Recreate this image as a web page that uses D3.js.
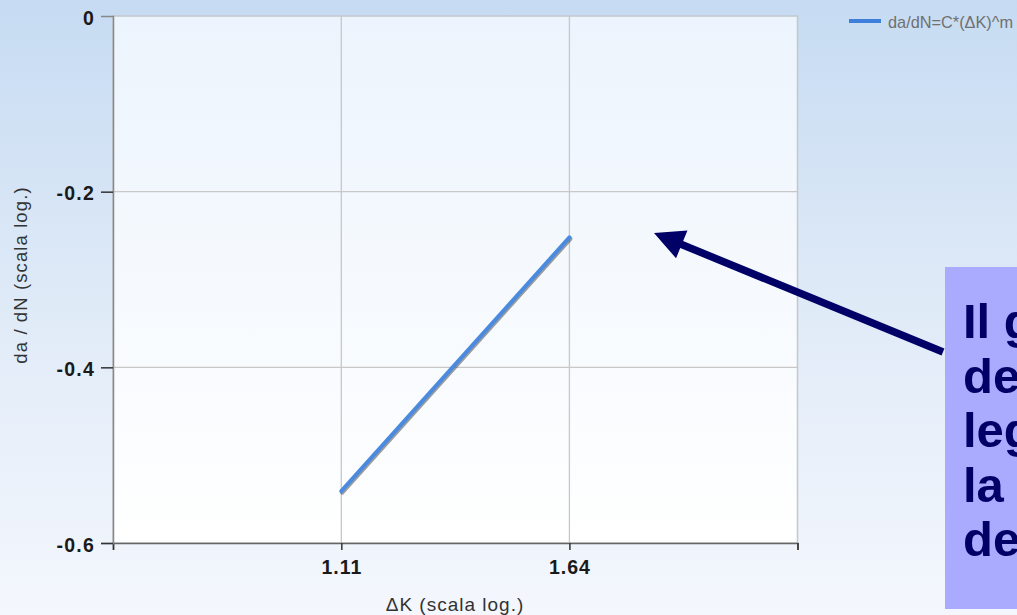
<!DOCTYPE html>
<html><head><meta charset="utf-8">
<script src="https://cdn.jsdelivr.net/npm/d3@7"></script>
<style>
html,body{margin:0;padding:0;overflow:hidden;background:#fff}
svg{display:block}
</style></head>
<body>
<script>
// ---- data ----
const xValues = [1.11, 1.64];               // ΔK
const yValues = [-0.541, -0.252];           // da/dN (log)
const seriesName = "da/dN=C*(ΔK)^m";
const xTickValues = [0.751, 1.11, 1.64, 2.423];
const xTickLabels = ["", "1.11", "1.64", ""];
const yTickValues = [0, -0.2, -0.4, -0.6];
const yTickLabels = ["0", "-0.2", "-0.4", "-0.6"];
const xTitle = "ΔK (scala log.)";
const yTitle = "da / dN (scala log.)";
const noteLines = ["Il g", "de", "leg", "la", "de"];

(function(){
const W = 1017, H = 615;
const svg = d3.select("body").append("svg").attr("width", W).attr("height", H);
const defs = svg.append("defs");
const bg = defs.append("linearGradient").attr("id","bg").attr("x1",0).attr("y1",0).attr("x2",0).attr("y2",1);
bg.append("stop").attr("offset","0%").attr("stop-color","#c6dbf2");
bg.append("stop").attr("offset","55%").attr("stop-color","#e2ecf8");
bg.append("stop").attr("offset","100%").attr("stop-color","#f4f7fd");
const pg = defs.append("linearGradient").attr("id","pg").attr("x1",0).attr("y1",0).attr("x2",0).attr("y2",1);
pg.append("stop").attr("offset","0%").attr("stop-color","#ecf4fd");
pg.append("stop").attr("offset","100%").attr("stop-color","#ffffff");

svg.append("rect").attr("width",W).attr("height",H).attr("fill","url(#bg)");

const pL = 113, pR = 797.5, pT = 16, pB = 543;
const x = d3.scaleLog().domain([xTickValues[0], xTickValues[3]]).range([pL, pR]);
const y = d3.scaleLinear().domain([-0.6, 0]).range([pB, pT]);

// plot area
svg.append("rect").attr("x",pL).attr("y",pT).attr("width",pR-pL).attr("height",pB-pT)
  .attr("fill","url(#pg)").attr("stroke","#c4c7cc").attr("stroke-width",1.5);

// grid
const g = svg.append("g");
g.selectAll(".vg").data(xTickValues.slice(1,3)).join("line")
  .attr("x1",d=>x(d)).attr("x2",d=>x(d)).attr("y1",pT).attr("y2",pB)
  .attr("stroke","#c8c8c8").attr("stroke-width",1.3);
g.selectAll(".hg").data(yTickValues.slice(1,3)).join("line")
  .attr("x1",pL).attr("x2",pR).attr("y1",d=>y(d)).attr("y2",d=>y(d))
  .attr("stroke","#c8c8c8").attr("stroke-width",1.3);

// axes
const xAxis = d3.axisBottom(x).tickValues(xTickValues).tickSize(7).tickPadding(10)
  .tickFormat((d,i)=>xTickLabels[i]);
const gx = svg.append("g").attr("transform",`translate(0,${pB})`).call(xAxis);
gx.select(".domain").attr("stroke","#666").attr("stroke-width",1.5);
gx.selectAll(".tick line").attr("stroke","#333").attr("stroke-width",1.5);
gx.selectAll(".tick text").attr("font-family","Liberation Sans, Arial, sans-serif")
  .attr("font-size",19.5).attr("font-weight","bold").attr("letter-spacing",1).attr("fill","#1a1a1a");

const yAxis = d3.axisLeft(y).tickValues(yTickValues).tickSize(12).tickPadding(6)
  .tickFormat((d,i)=>yTickLabels[i]);
const gy = svg.append("g").attr("transform",`translate(${pL},0)`).call(yAxis);
gy.select(".domain").attr("stroke","#888").attr("stroke-width",1.5);
gy.selectAll(".tick line").attr("stroke","#333").attr("stroke-width",1.5)
  .attr("opacity",(d)=>d===0?0:1);
gy.selectAll(".tick text").attr("font-family","Liberation Sans, Arial, sans-serif")
  .attr("font-size",19.5).attr("font-weight","bold").attr("letter-spacing",1.2).attr("fill","#1a1a1a")
  .attr("dy","0.42em").attr("x",-18);

// titles
svg.append("text").attr("x",455).attr("y",611).attr("text-anchor","middle")
  .attr("font-family","Liberation Sans, Arial, sans-serif").attr("font-size",19).attr("letter-spacing",1)
  .attr("fill","#333").text(xTitle);
svg.append("text").attr("transform","translate(27,275) rotate(-90)").attr("text-anchor","middle")
  .attr("font-family","Liberation Sans, Arial, sans-serif").attr("font-size",18.5).attr("letter-spacing",1.1)
  .attr("fill","#333").text(yTitle);

// series
const pts = xValues.map((v,i)=>[v,yValues[i]]);
const line = d3.line().x(d=>x(d[0])).y(d=>y(d[1]));
svg.append("path").datum(pts).attr("d",line).attr("transform","translate(1,1.5)")
  .attr("fill","none").attr("stroke","rgba(40,40,40,0.45)").attr("stroke-width",4).attr("stroke-linecap","round");
svg.append("path").datum(pts).attr("d",line)
  .attr("fill","none").attr("stroke","#4a8be0").attr("stroke-width",4).attr("stroke-linecap","round");

// legend
svg.append("line").attr("x1",849).attr("x2",881).attr("y1",21).attr("y2",21)
  .attr("stroke","#3f7fdc").attr("stroke-width",4);
svg.append("text").attr("x",888).attr("y",28).attr("font-family","Liberation Sans, Arial, sans-serif")
  .attr("font-size",17).attr("fill","#707070").attr("textLength",125).attr("lengthAdjust","spacingAndGlyphs")
  .text(seriesName);

// annotation box
svg.append("rect").attr("x",945).attr("y",267).attr("width",90).attr("height",342).attr("fill","#aaaaff");
const nt = svg.append("g").attr("font-family","Liberation Sans, Arial, sans-serif")
  .attr("font-size",49).attr("font-weight","bold").attr("fill","#000066");
noteLines.forEach((t,i)=>{
  nt.append("text").attr("x", 963).attr("y",338+i*54.5).text(t);
});

// arrow
const tail = [943,352], tip = [654,233];
svg.append("line").attr("x1",tail[0]).attr("y1",tail[1]).attr("x2",tip[0]+24).attr("y2",tip[1]+10)
  .attr("stroke","#000066").attr("stroke-width",7.5);
const dx = tail[0]-tip[0], dy = tail[1]-tip[1], L = Math.hypot(dx,dy);
const ux = dx/L, uy = dy/L, px = -uy, py = ux;
const back = [tip[0]+ux*30, tip[1]+uy*30];
svg.append("polygon").attr("points",[
  tip, [back[0]+px*15, back[1]+py*15], [back[0]-px*15, back[1]-py*15]
].map(p=>p.join(",")).join(" ")).attr("fill","#000066");
})();
</script>
</body></html>
